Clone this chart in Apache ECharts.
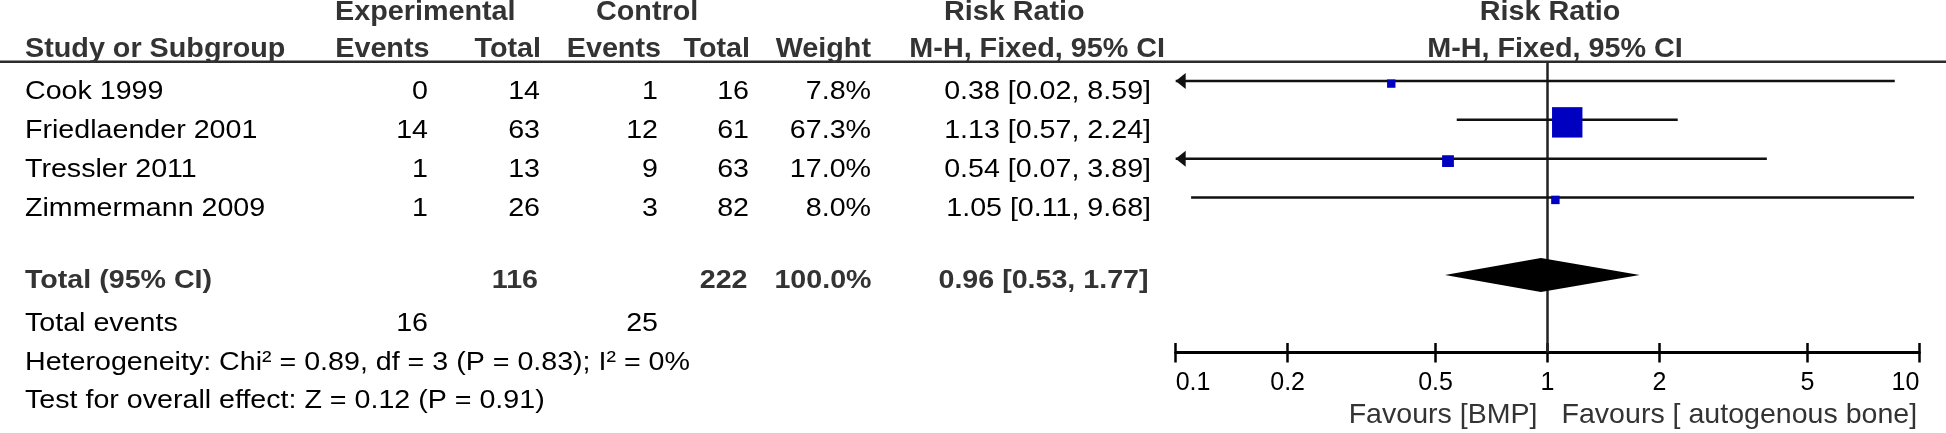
<!DOCTYPE html>
<html><head><meta charset="utf-8">
<script src="https://cdn.jsdelivr.net/npm/echarts@6/dist/echarts.min.js"></script>
<style>html,body{margin:0;padding:0;background:#fff}#c{width:1946px;height:433px}</style>
</head><body><div id="c"></div>
<script>
// ---------- data ----------
const studies = ['Cook 1999', 'Friedlaender 2001', 'Tressler 2011', 'Zimmermann 2009'];
const expEvents = [0, 14, 1, 1];
const expTotals = [14, 63, 13, 26];
const ctrlEvents = [1, 12, 9, 3];
const ctrlTotals = [16, 61, 63, 82];
const weights = [7.8, 67.3, 17.0, 8.0];
const riskRatios = [0.38, 1.13, 0.54, 1.05];
const ciLower = [0.02, 0.57, 0.07, 0.11];
const ciUpper = [8.59, 2.24, 3.89, 9.68];
const totalLabel = 'Total (95% CI)';
const totalExp = [116];
const totalCtrl = [222];
const totalWeight = [100.0];
const pooledRR = [0.96];
const pooledLower = [0.53];
const pooledUpper = [1.77];
const totalEventsLabel = 'Total events';
const totalEventsExp = [16];
const totalEventsCtrl = [25];
const heterogeneityText = 'Heterogeneity: Chi² = 0.89, df = 3 (P = 0.83); I² = 0%';
const overallEffectText = 'Test for overall effect: Z = 0.12 (P = 0.91)';
const tickValues = [0.1, 0.2, 0.5, 1, 2, 5, 10];
const tickLabels = ['0.1', '0.2', '0.5', '1', '2', '5', '10'];
const favoursLeft = 'Favours [BMP]';
const favoursRight = 'Favours [ autogenous bone]';
const headerTop = ['Experimental', 'Control', 'Risk Ratio', 'Risk Ratio'];
const headerCols = ['Study or Subgroup', 'Events', 'Total', 'Events', 'Total', 'Weight', 'M-H, Fixed, 95% CI', 'M-H, Fixed, 95% CI'];

// ---------- chart ----------
const FONT = 'Liberation Sans, Arial, Helvetica, sans-serif';
const AX_MIN = tickValues[0], AX_MAX = tickValues[tickValues.length - 1];
const chart = echarts.init(document.getElementById('c'), null, {renderer: 'canvas'});

const studyData = studies.map((s, i) => [riskRatios[i], i + 0.5, ciLower[i], ciUpper[i], weights[i]]);
const pooledData = [[pooledRR[0], 5.5, pooledLower[0], pooledUpper[0]]];

function labelFor(v) {
  let best = 0, bd = Infinity;
  tickValues.forEach((t, i) => { const d = Math.abs(Math.log10(t) - Math.log10(v)); if (d < bd) { bd = d; best = i; } });
  return tickLabels[best];
}

function renderStudy(params, api) {
  const rr = api.value(0), row = api.value(1), lo = api.value(2), hi = api.value(3), w = api.value(4);
  const pLo = api.coord([Math.max(lo, AX_MIN), row]);
  const pHi = api.coord([Math.min(hi, AX_MAX), row]);
  const c = api.coord([rr, row]);
  const ch = [{type: 'line', shape: {x1: pLo[0], y1: pLo[1], x2: pHi[0], y2: pHi[1]}, style: {stroke: '#111', lineWidth: 2.5}}];
  if (lo < AX_MIN) ch.push({type: 'polygon', shape: {points: [[pLo[0], pLo[1]], [pLo[0] + 10, pLo[1] - 8], [pLo[0] + 10, pLo[1] + 8]]}, style: {fill: '#111'}});
  if (hi > AX_MAX) ch.push({type: 'polygon', shape: {points: [[pHi[0], pHi[1]], [pHi[0] - 10, pHi[1] - 8], [pHi[0] - 10, pHi[1] + 8]]}, style: {fill: '#111'}});
  const s = 5.5 + 0.37 * w;
  ch.push({type: 'rect', shape: {x: c[0] - s / 2, y: c[1] + 2.5 - s / 2, width: s, height: s}, style: {fill: '#0000c0'}});
  return {type: 'group', children: ch};
}

function renderPooled(params, api) {
  const rr = api.value(0), row = api.value(1), lo = api.value(2), hi = api.value(3);
  const c = api.coord([rr, row]);
  const pLo = api.coord([lo, row]);
  const pHi = api.coord([hi, row]);
  return {type: 'polygon', shape: {points: [[pLo[0], pLo[1]], [c[0], c[1] - 17], [pHi[0], pHi[1]], [c[0], c[1] + 17]]}, style: {fill: '#000'}};
}

const option = {
  animation: false,
  backgroundColor: '#fff',
  grid: {left: 1175.7, right: 26.7, top: 61.7, bottom: 80.5, outerBoundsMode: 'none', containLabel: false},
  xAxis: [
    {type: 'log', logBase: 10, min: AX_MIN, max: AX_MAX, position: 'bottom',
     axisLine: {show: true, onZero: false, lineStyle: {color: '#000', width: 3}},
     axisTick: {show: true, inside: false, length: 10, lineStyle: {color: '#000', width: 2.5}, customValues: tickValues},
     axisLabel: {show: true, customValues: tickValues, formatter: labelFor, color: '#000', fontSize: 25, fontFamily: FONT, margin: 18, alignMinLabel: 'left', alignMaxLabel: 'right'},
     splitLine: {show: false}, minorTick: {show: false}, axisPointer: {show: false}},
    {type: 'log', logBase: 10, min: AX_MIN, max: AX_MAX, position: 'bottom',
     axisLine: {show: false, onZero: false},
     axisTick: {show: true, inside: true, length: 9.5, lineStyle: {color: '#000', width: 2.5}, customValues: tickValues},
     axisLabel: {show: false}, splitLine: {show: false}}
  ],
  yAxis: {type: 'value', min: 0, max: 7.5, inverse: true, show: false, splitLine: {show: false}, axisLine: {onZero: false}},
  series: [
    {type: 'line', data: [[1, 0], [1, 7.5]], symbol: 'none', silent: true, z: 1,
     lineStyle: {color: '#222', width: 2.5}},
    {type: 'custom', data: studyData, renderItem: renderStudy, encode: {x: 0, y: 1}, silent: true, z: 3},
    {type: 'custom', data: pooledData, renderItem: renderPooled, encode: {x: 0, y: 1}, silent: true, z: 3}
  ]
};
chart.setOption(option);

// ---------- table text ----------
const Y = v => chart.convertToPixel({yAxisIndex: 0}, v);
const X = v => chart.convertToPixel({xAxisIndex: 0}, v);

function txt(str, x, row, align, o) {
  o = o || {};
  const fs = o.fs || 26.5;
  return {type: 'text', x: x, y: Y(row), scaleX: o.sx || 1.08, silent: true, z: 10,
    style: {text: str, x: 0, y: 0, fill: o.fill || '#000', fontSize: fs, fontWeight: o.bold ? 'bold' : 'normal',
      fontFamily: FONT, align: align, verticalAlign: 'middle', textAlign: align, textVerticalAlign: 'middle'}};
}
const H = {bold: true, fs: 27, sx: 1.065, fill: '#333'};

const col = {study: 25, expEv: 428, expTot: 540, ctlEv: 658, ctlTot: 749, wt: 871, rr: 1151};
const els = [];
// header line
els.push({type: 'line', silent: true, z: 9, shape: {x1: 0, y1: Y(0), x2: 1946, y2: Y(0)}, style: {stroke: '#2b2b2b', lineWidth: 2.5}});
// header rows
const hTop = -1.277, hCol = -0.304;
els.push(txt(headerTop[0], 335, hTop, 'left', H));
els.push(txt(headerTop[1], 596, hTop, 'left', H));
els.push(txt(headerTop[2], 944, hTop, 'left', H));
els.push(txt(headerTop[3], X(1) + 2.5, hTop, 'center', H));
els.push(txt(headerCols[0], col.study, hCol, 'left', H));
els.push(txt(headerCols[1], 429.5, hCol, 'right', H));
els.push(txt(headerCols[2], 541, hCol, 'right', H));
els.push(txt(headerCols[3], 661, hCol, 'right', H));
els.push(txt(headerCols[4], 750, hCol, 'right', H));
els.push(txt(headerCols[5], 871, hCol, 'right', H));
els.push(txt(headerCols[6], 1165, hCol, 'right', H));
els.push(txt(headerCols[7], X(1) + 7.5, hCol, 'center', H));
// study rows
const fmt2 = v => v.toFixed(2);
studies.forEach((s, i) => {
  const r = i + 0.784;
  els.push(txt(s, col.study, r, 'left'));
  els.push(txt(String(expEvents[i]), col.expEv, r, 'right'));
  els.push(txt(String(expTotals[i]), col.expTot, r, 'right'));
  els.push(txt(String(ctrlEvents[i]), col.ctlEv, r, 'right'));
  els.push(txt(String(ctrlTotals[i]), col.ctlTot, r, 'right'));
  els.push(txt(weights[i].toFixed(1) + '%', col.wt, r, 'right'));
  els.push(txt(fmt2(riskRatios[i]) + ' [' + fmt2(ciLower[i]) + ', ' + fmt2(ciUpper[i]) + ']', col.rr, r, 'right'));
});
// total row
const B = {bold: true, fs: 26.5, sx: 1.08, fill: '#333'};
const rT = 5.651;
els.push(txt(totalLabel, col.study, rT, 'left', B));
els.push(txt(String(totalExp[0]), 538, rT, 'right', B));
els.push(txt(String(totalCtrl[0]), 747.5, rT, 'right', B));
els.push(txt(totalWeight[0].toFixed(1) + '%', 871.5, rT, 'right', B));
els.push(txt(fmt2(pooledRR[0]) + ' [' + fmt2(pooledLower[0]) + ', ' + fmt2(pooledUpper[0]) + ']', 1148.5, rT, 'right', B));
// total events & stats
els.push(txt(totalEventsLabel, col.study, 6.768, 'left'));
els.push(txt(String(totalEventsExp[0]), col.expEv, 6.768, 'right'));
els.push(txt(String(totalEventsCtrl[0]), col.ctlEv, 6.768, 'right'));
els.push(txt(heterogeneityText, col.study, 7.759, 'left'));
els.push(txt(overallEffectText, col.study, 8.746, 'left'));
// favours
const F = {fs: 28, sx: 1.02, fill: '#333'};
els.push(txt(favoursLeft, X(1) - 10, 9.12, 'right', F));
els.push(txt(favoursRight, X(1) + 14, 9.12, 'left', F));

chart.setOption({graphic: {elements: els}});
</script>
</body></html>
